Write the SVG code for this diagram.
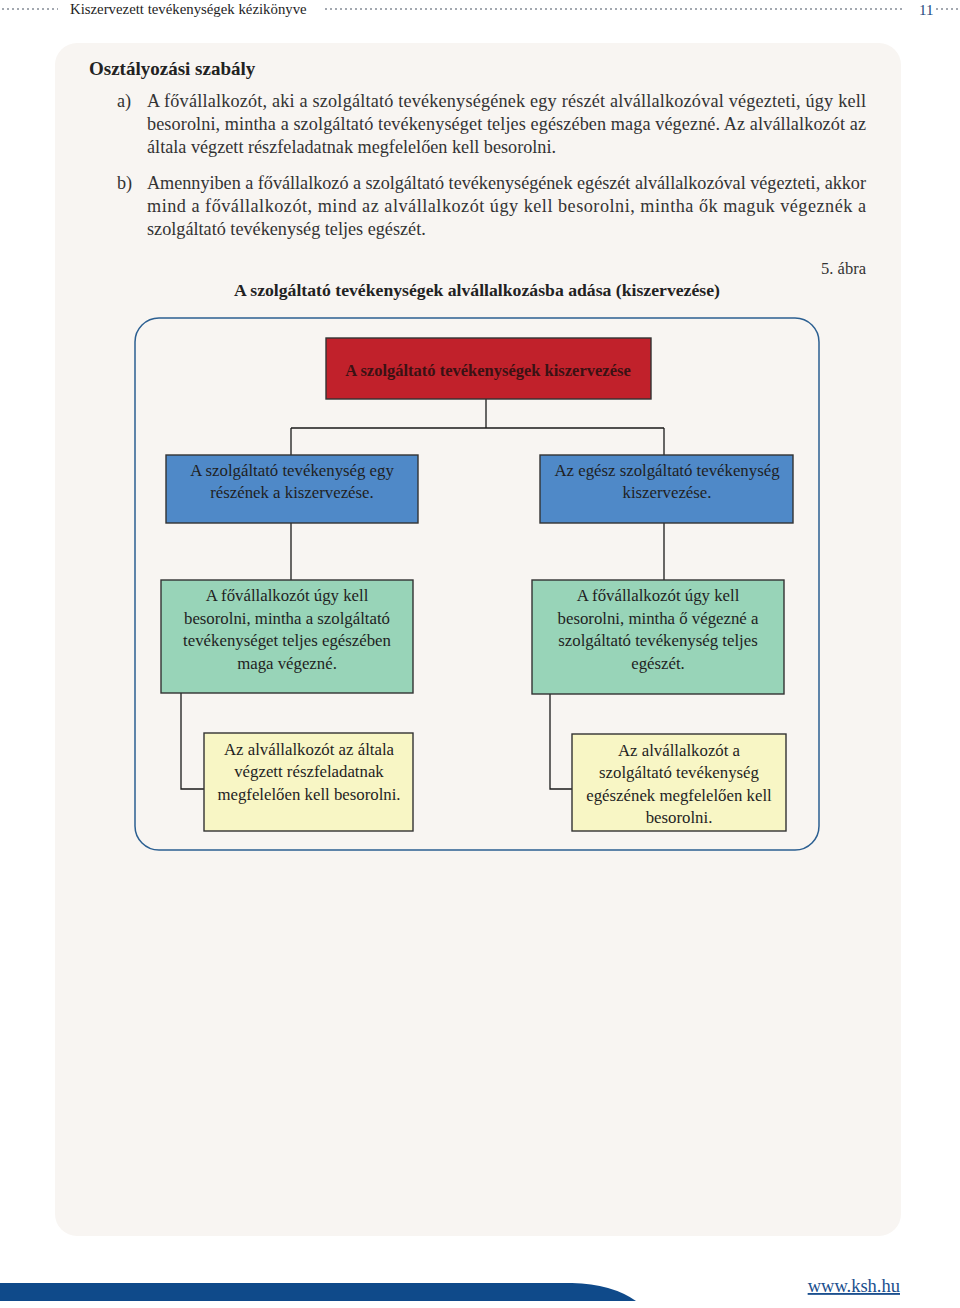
<svg xmlns="http://www.w3.org/2000/svg" width="960" height="1308" viewBox="0 0 960 1308">
<style>
  text { font-family: "Liberation Serif", "DejaVu Serif", serif; fill: #262626; }
  .hdr { font-size: 14.8px; fill: #1e1e1e; }
  .body { font-size: 18.2px; fill: #333333; }
  .ttl { font-size: 19px; font-weight: bold; fill: #222222; }
  .cap { font-size: 17.7px; font-weight: bold; fill: #222222; }
  .nt { font-size: 16.8px; text-anchor: middle; fill: #1f1f1f; }
  .dots { stroke: #a3a8b0; stroke-width: 2; stroke-dasharray: 2 3; fill: none; }
  .box { stroke: #333333; stroke-width: 1.4; }
  .red { fill: #c1212b; }
  .blue { fill: #4f89c8; }
  .green { fill: #98d4b8; }
  .yellow { fill: #f8f6c5; }
  .conn { stroke: #1a1a1a; stroke-width: 1.3; fill: none; }
</style>

<rect width="960" height="1308" fill="#ffffff"/>

<!-- header -->
<line class="dots" x1="2" y1="9" x2="58" y2="9"/>
<text class="hdr" x="70" y="14">Kiszervezett tevékenységek kézikönyve</text>
<line class="dots" x1="325" y1="9" x2="902" y2="9"/>
<text x="919" y="15" style="font-size:15px; fill:#1e4a7e;">11</text>
<line class="dots" x1="936" y1="9" x2="960" y2="9"/>

<!-- panel -->
<rect x="55" y="43" width="846" height="1193" rx="22" fill="#f8f5f2"/>

<text class="ttl" x="89" y="75">Osztályozási szabály</text>

<text class="body" x="117" y="107">a)</text>
<text class="body" x="147" y="107" textLength="719" lengthAdjust="spacing">A fővállalkozót, aki a szolgáltató tevékenységének egy részét alvállalkozóval végezteti, úgy kell</text>
<text class="body" x="147" y="130" textLength="719" lengthAdjust="spacing">besorolni, mintha a szolgáltató tevékenységet teljes egészében maga végezné. Az alvállalkozót az</text>
<text class="body" x="147" y="153">általa végzett részfeladatnak megfelelően kell besorolni.</text>

<text class="body" x="117" y="189">b)</text>
<text class="body" x="147" y="189" textLength="719" lengthAdjust="spacing">Amennyiben a fővállalkozó a szolgáltató tevékenységének egészét alvállalkozóval végezteti, akkor</text>
<text class="body" x="147" y="212" textLength="719" lengthAdjust="spacing">mind a fővállalkozót, mind az alvállalkozót úgy kell besorolni, mintha ők maguk végeznék a</text>
<text class="body" x="147" y="235">szolgáltató tevékenység teljes egészét.</text>

<text class="body" x="866" y="274" text-anchor="end" style="font-size:16.5px;">5. ábra</text>
<text class="cap" x="477" y="296" text-anchor="middle">A szolgáltató tevékenységek alvállalkozásba adása (kiszervezése)</text>

<!-- diagram frame -->
<rect x="135" y="318" width="684" height="532" rx="24" fill="none" stroke="#2b5f91" stroke-width="1.5"/>

<!-- connectors -->
<g id="connectors">
  <path class="conn" d="M486 399 V428 M291 428 H664 M291 428 V455 M664 428 V455"/>
  <path class="conn" d="M291 523 V580"/>
  <path class="conn" d="M664 523 V580"/>
  <path class="conn" d="M181 693 V789 H204"/>
  <path class="conn" d="M550 694 V789 H572"/>
</g>

<g id="n-root">
  <rect class="box red" x="326" y="338" width="325" height="61"/>
  <text class="nt" x="488" y="376" style="font-weight:bold; fill:#3a1214; font-size:16.5px;">A szolgáltató tevékenységek kiszervezése</text>
</g>

<g id="n-part">
  <rect class="box blue" x="166" y="455" width="252" height="68"/>
  <text class="nt" x="292" y="476">A szolgáltató tevékenység egy</text>
  <text class="nt" x="292" y="498">részének a kiszervezése.</text>
</g>

<g id="n-whole">
  <rect class="box blue" x="540" y="455" width="253" height="68"/>
  <text class="nt" x="667" y="476">Az egész szolgáltató tevékenység</text>
  <text class="nt" x="667" y="498">kiszervezése.</text>
</g>

<g id="n-main-part">
  <rect class="box green" x="161" y="580" width="252" height="113"/>
  <text class="nt" x="287" y="601">A fővállalkozót úgy kell</text>
  <text class="nt" x="287" y="624">besorolni, mintha a szolgáltató</text>
  <text class="nt" x="287" y="646">tevékenységet teljes egészében</text>
  <text class="nt" x="287" y="669">maga végezné.</text>
</g>

<g id="n-main-whole">
  <rect class="box green" x="532" y="580" width="252" height="114"/>
  <text class="nt" x="658" y="601">A fővállalkozót úgy kell</text>
  <text class="nt" x="658" y="624">besorolni, mintha ő végezné a</text>
  <text class="nt" x="658" y="646">szolgáltató tevékenység teljes</text>
  <text class="nt" x="658" y="669">egészét.</text>
</g>

<g id="n-sub-part">
  <rect class="box yellow" x="204" y="733" width="209" height="98"/>
  <text class="nt" x="309" y="755">Az alvállalkozót az általa</text>
  <text class="nt" x="309" y="777">végzett részfeladatnak</text>
  <text class="nt" x="309" y="800">megfelelően kell besorolni.</text>
</g>

<g id="n-sub-whole">
  <rect class="box yellow" x="572" y="734" width="214" height="97"/>
  <text class="nt" x="679" y="756">Az alvállalkozót a</text>
  <text class="nt" x="679" y="778">szolgáltató tevékenység</text>
  <text class="nt" x="679" y="801">egészének megfelelően kell</text>
  <text class="nt" x="679" y="823">besorolni.</text>
</g>

<!-- footer -->
<path d="M0 1283 H572 Q612 1284 636 1301 H0 Z" fill="#0f4a8a"/>
<text x="900" y="1292" text-anchor="end" style="font-size:18.5px; fill:#1b4f8e; text-decoration:underline;">www.ksh.hu</text>
</svg>
